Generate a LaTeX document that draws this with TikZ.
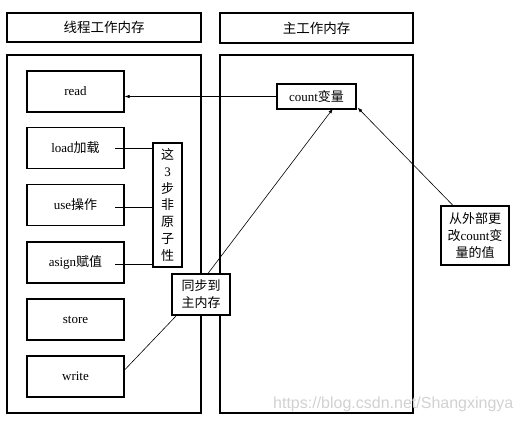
\documentclass[tikz,border=0pt]{standalone}
\usepackage{fontspec}
\setmainfont{Liberation Serif}
\newfontfamily\cjk{Noto Sans CJK SC}
\newfontfamily\wmfont{Liberation Sans}
\usetikzlibrary{arrows.meta}
\begin{document}
\begin{tikzpicture}[x=1pt,y=-1pt,
  box/.style={draw, line width=1.1pt, inner sep=0pt, align=center},
  opbox/.style={box, minimum width=97pt, minimum height=41pt, font=\fontsize{13}{15}\selectfont},
  link/.style={line width=0.6pt},
  arr/.style={link, -{Latex[length=5pt,width=3.5pt]}}]
\useasboundingbox (0,0) rectangle (521,423);
% headers
\node[box, minimum width=194pt, minimum height=29pt, font=\fontsize{13.5}{15}\selectfont\cjk] (hdrL) at (104,27.5) {线程工作内存};
\node[box, minimum width=193pt, minimum height=30pt, font=\fontsize{13.5}{15}\selectfont\cjk] (hdrR) at (316.5,28) {主工作内存};
% big boxes
\node[box, minimum width=194pt, minimum height=358pt] (bigL) at (104,234) {};
\node[box, minimum width=193pt, minimum height=358pt] (bigR) at (316.5,234) {};
% operation boxes
\node[opbox] (read) at (75.5,91.5) {read};
\node[opbox] (load) at (75.5,148) {load{\cjk 加载}};
\node[opbox] (use) at (75.5,205) {use{\cjk 操作}};
\node[opbox] (asign) at (75.5,262.5) {asign{\cjk 赋值}};
\node[opbox] (store) at (75.5,319.5) {store};
\node[opbox] (write) at (75.5,376.5) {write};
% non-atomic note
\node[box, fill=white, minimum width=29pt, minimum height=124pt, font=\fontsize{13}{16.7}\selectfont] (nonat) at (167.5,205) {{\cjk 这}\\3\\{\cjk 步}\\{\cjk 非}\\{\cjk 原}\\{\cjk 子}\\{\cjk 性}};
% sync note
\node[box, fill=white, minimum width=58pt, minimum height=41pt, font=\fontsize{13}{17}\selectfont\cjk] (sync) at (201,294.5) {同步到\\主内存};
% count variable
\node[box, fill=white, minimum width=79pt, minimum height=25pt, font=\fontsize{13}{15}\selectfont] (count) at (316.5,96.5) {count{\cjk 变量}};
% external change
\node[box, fill=white, minimum width=68pt, minimum height=59pt, font=\fontsize{13}{17}\selectfont] (ext) at (475,235.5) {{\cjk 从外部更}\\{\cjk 改}count{\cjk 变}\\{\cjk 量的值}};
% connectors
\coordinate (loadR) at (115,148);
\coordinate (useR) at (115,207);
\coordinate (asignR) at (115,264);
\draw[link] (loadR) -- (loadR -| nonat.west);
\draw[link] (useR) -- (useR -| nonat.west);
\draw[link] (asignR) -- (asignR -| nonat.west);
\draw[arr] (count.west) -- (count.west -| read.east);
\draw[arr] ([xshift=7pt]sync.north) -- ([xshift=16.5pt,yshift=1pt]count.south);
\draw[arr] ([xshift=-22pt]ext.north) -- ([xshift=1pt,yshift=2pt]count.south east);
\draw[link] ([xshift=5pt]sync.south west) -- ([yshift=6.5pt]write.east);
% watermark
\node[text=black!18, font=\fontsize{16}{18}\selectfont\wmfont, anchor=west, inner sep=0pt] (wm) at (273,404) {https://blog.csdn.net/Shangxingya};
\end{tikzpicture}
\end{document}
